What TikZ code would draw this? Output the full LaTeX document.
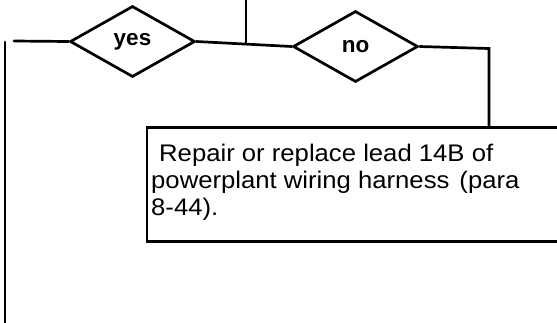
\documentclass[tikz,border=0pt]{standalone}
\usepackage{fontspec}
\setmainfont{Liberation Sans}
\newfontfamily\wideboxfont[FakeStretch=1.07]{Liberation Sans}
\usetikzlibrary{shapes.geometric}
\begin{document}
\begin{tikzpicture}[x=1pt,y=-1pt,
  wire/.style={line width=2.7pt, line cap=round},
  choice/.style={shape=diamond, draw, line width=2.7pt, minimum width=125pt, minimum height=71pt, inner sep=0pt,
     font=\fontsize{22.5}{26}\selectfont\bfseries},
  actbox/.style={draw, line width=2.7pt, anchor=north west, minimum width=440pt, minimum height=114pt, inner sep=0pt},
  acttext/.style={anchor=north west, align=left, inner sep=0pt, font=\wideboxfont\fontsize{24}{27}\selectfont}
]
\clip (0,0) rectangle (557,322);
\fill[white] (0,0) rectangle (557,322);

\node[choice] (yes) at (132.5,41.5) {yes};
\node[choice] (no) at (355.5,46.5) {no};

\node[actbox] (box) at (145.5,126) {};
\node[acttext] (txt) at (151,143.5) {\hspace{8pt}Repair or replace lead 14B of\\powerplant wiring harness\hspace{10pt}(para\\8-44).};

\coordinate (topin) at (246,-2);
\coordinate (join) at (246,43);
\coordinate (leftstub) at (14,41);
\coordinate (lefttop) at (5,42);
\coordinate (leftbot) at (5,330);
\coordinate (corner) at (489,48.5);

\draw[wire] (topin) -- (join);
\draw[wire] (yes.east) -- (no.west);
\draw[wire] (leftstub) -- (yes.west);
\draw[wire] (lefttop) -- (leftbot);
\draw[wire, line cap=butt] (no.east) -- (corner) -- (corner |- box.north);
\end{tikzpicture}
\end{document}
